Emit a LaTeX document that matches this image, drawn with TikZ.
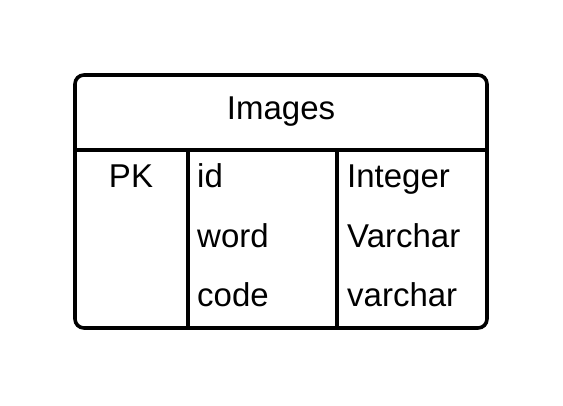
\documentclass[tikz,border=0pt]{standalone}
\usepackage{fontspec}
\setmainfont{Liberation Sans}
\begin{document}
\begin{tikzpicture}[x=1pt,y=-1pt,
  line/.style={line width=3.6pt},
  txt/.style={font=\fontsize{33}{39}\selectfont, inner sep=0pt}]
\useasboundingbox (0,0) rectangle (563,405);
\draw[line, rounded corners=9pt] (75,75) rectangle (487,328);
\coordinate (hl) at (75,150);
\coordinate (hr) at (487,150);
\draw[line] (hl) -- (hr);
\coordinate (v1t) at (188,150);
\coordinate (v1b) at (188,328);
\coordinate (v2t) at (337,150);
\coordinate (v2b) at (337,328);
\draw[line] (v1t) -- (v1b);
\draw[line] (v2t) -- (v2b);
\node[txt, anchor=base] (title) at (281,119) {Images};
\node[txt, anchor=base] (pk) at (131,187) {PK};
\node[txt, anchor=base west] (id) at (197,187) {id};
\node[txt, anchor=base west] (word) at (197,247) {word};
\node[txt, anchor=base west] (code) at (197,306) {code};
\node[txt, anchor=base west] (t1) at (347,187) {Integer};
\node[txt, anchor=base west] (t2) at (347,247) {Varchar};
\node[txt, anchor=base west] (t3) at (347,306) {varchar};
\end{tikzpicture}
\end{document}
